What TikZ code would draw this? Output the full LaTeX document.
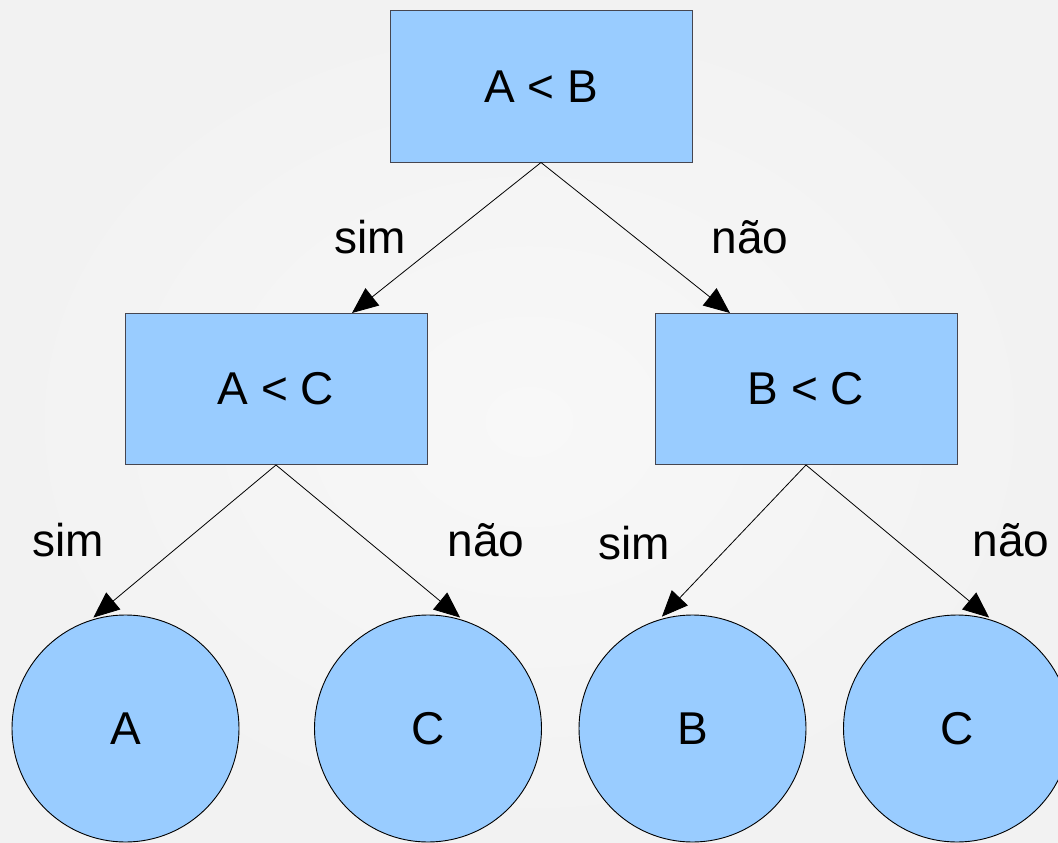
\documentclass[tikz,border=0pt]{standalone}
\usepackage{fontspec}
\setmainfont{Liberation Sans}
\usetikzlibrary{arrows.meta}
\definecolor{nodefill}{HTML}{99CCFF}
\definecolor{bgouter}{HTML}{F2F2F2}
\definecolor{bginner}{HTML}{F8F8F8}
\begin{document}
\begin{tikzpicture}[x=1pt,y=-1pt,
  box/.style={draw={rgb,255:red,70;green,70;blue,80}, line width=1pt, fill=nodefill,
    minimum width=302pt, minimum height=151pt, inner sep=0pt, font=\fontsize{46}{50}\selectfont},
  leaf/.style={circle, draw=black, line width=0.9pt, fill=nodefill,
    minimum size=227pt, inner sep=0pt, font=\fontsize{46}{50}\selectfont},
  conn/.style={draw=black, line width=0.8pt, -{Triangle[length=26pt,width=22pt]}},
  lbl/.style={font=\fontsize{46}{50}\selectfont, inner sep=0pt}]
\useasboundingbox (0,0) rectangle (1058,843);
\shade[inner color=bginner, outer color=bgouter] (0,0) rectangle (1058,843);
\node[box] (top) at (541,86.5) {A < B};
\node[box] (lc) at (276,389) {A < C};
\node[box] (rc) at (806,389) {B < C};
\node[leaf] (la) at (125.5,728.5) {A};
\node[leaf] (lC) at (428,728.5) {C};
\node[leaf] (rb) at (692.5,728.5) {B};
\node[leaf] (rC) at (957,728.5) {C};
\draw[conn] (top.south) -- (lc.45);
\draw[conn] (top.south) -- (rc.135);
\draw[conn, shorten >=4pt] (lc.south) -- (la.108);
\draw[conn, shorten >=4pt] (lc.south) -- (lC.72);
\draw[conn, shorten >=4pt] (rc.south) -- (rb.107);
\draw[conn, shorten >=4pt] (rc.south) -- (rC.72);
\node[lbl] (l1) at (370,237) {sim};
\node[lbl] (l2) at (750,237) {não};
\node[lbl] (l3) at (68,540) {sim};
\node[lbl] (l4) at (486,540) {não};
\node[lbl] (l5) at (634,543) {sim};
\node[lbl] (l6) at (1011,540) {não};
\end{tikzpicture}
\end{document}
